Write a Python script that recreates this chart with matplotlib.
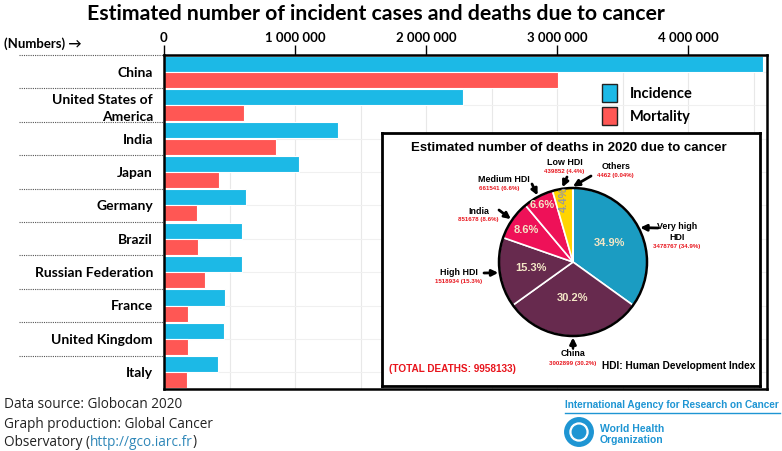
import matplotlib
matplotlib.use("Agg")
import matplotlib.pyplot as plt
from matplotlib.patches import Circle
import numpy as np

W, H = 782, 451

countries = ["China", "United States of\nAmerica", "India", "Japan", "Germany", "Brazil",
             "Russian Federation", "France", "United Kingdom", "Italy"]
incidence = [4568754, 2281658, 1324413, 1028658, 628519, 592212, 591371, 467965, 457960, 415269]
mortality = [3002899, 612390, 851678, 420124, 251995, 259949, 311537, 185621, 179648, 174759]
x_ticks = [0, 1000000, 2000000, 3000000, 4000000]
x_tick_labels = ["0", "1 000 000", "2 000 000", "3 000 000", "4 000 000"]

pie_groups = ["Very high\nHDI", "China", "High HDI", "India", "Medium HDI", "Low HDI", "Others"]
pie_deaths = [3478767, 3002899, 1518934, 851678, 661541, 439852, 4462]
pie_share = ["34.9%", "30.2%", "15.3%", "8.6%", "6.6%", "4.4%", "0.04%"]
total_deaths = 9958133

BLUE = "#1CB9E6"
RED = "#FF5754"
pie_colors = ["#1B9CC2", "#672A4E", "#672A4E", "#EE1158", "#EE1158", "#FFD400", "#FFD400"]

TITLE_FONT = ["Lato", "DejaVu Sans"]
ARIAL = ["Liberation Sans", "DejaVu Sans"]


def fx(x):
    return x / W


def fy(y):
    return 1 - y / H


fig = plt.figure(figsize=(W / 100, H / 100), dpi=100)
fig.patch.set_facecolor("white")

fig.text(fx(376), fy(14), "Estimated number of incident cases and deaths due to cancer",
         ha="center", va="center", fontsize=15.3, fontweight="bold", family=TITLE_FONT)

# ---- main bar chart
ax = fig.add_axes([fx(164), fy(389), fx(767 - 164), (389 - 55) / H])
y = np.arange(len(countries))
b1 = ax.barh(y - 0.24, incidence, height=0.48, color=BLUE, edgecolor="white", linewidth=0.8,
             label="Incidence", zorder=2)
b2 = ax.barh(y + 0.24, mortality, height=0.48, color=RED, edgecolor="white", linewidth=0.8,
             label="Mortality", zorder=2)
ax.set_ylim(len(countries) - 0.5, -0.5)
ax.set_xlim(0, 4600000)
ax.xaxis.tick_top()
ax.set_xticks(x_ticks)
ax.set_xticklabels(x_tick_labels, fontsize=9.5, fontweight="bold", family=TITLE_FONT)
ax.set_xticks(np.arange(0, 4600001, 500000), minor=True)
ax.tick_params(axis="x", which="major", length=7, width=1, pad=1)
ax.tick_params(axis="x", which="minor", length=0)
ax.set_yticks(y)
ax.set_yticklabels(countries, fontsize=10, fontweight="bold", family=TITLE_FONT, linespacing=1.5)
ax.tick_params(axis="y", length=0, pad=8)
ax.grid(axis="x", which="both", color="#E8E8E8", lw=0.8, zorder=0)
ax.grid(axis="y", color="#F0F0F0", lw=0.8, zorder=0)
for s in ax.spines.values():
    s.set_linewidth(1.8)
for i in range(len(countries)):
    ax.plot([-0.24, 0], [i - 0.5, i - 0.5], transform=ax.get_yaxis_transform(),
            ls=(0, (1, 1)), color="#555555", lw=0.8, clip_on=False)

fig.text(fx(4), fy(44), "(Numbers) \u2192", ha="left", va="center", fontsize=9.5,
         fontweight="bold", family=TITLE_FONT)

leg = ax.legend(handles=[b1, b2], loc="upper left", bbox_to_anchor=(fx(589), fy(71)),
                bbox_transform=fig.transFigure, frameon=False, handlelength=1.0,
                handleheight=1.5, handletextpad=0.9, labelspacing=0.35,
                prop={"size": 10.5, "weight": "bold", "family": TITLE_FONT})
for h in leg.legend_handles:
    h.set_edgecolor("#222222")
    h.set_linewidth(1)

# ---- inset pie
x0, x1, y0, y1 = 382, 760, 133, 386
ax2 = fig.add_axes([fx(x0), fy(y1), fx(x1 - x0), (y1 - y0) / H])
ax2.set_zorder(5)
center = (573, H - 262)
radius = 74
wedges, _ = ax2.pie(pie_deaths, colors=pie_colors, startangle=90, counterclock=False,
                    center=center, radius=radius, frame=True,
                    wedgeprops=dict(edgecolor="white", linewidth=1.2))
ax2.add_patch(Circle(center, radius, fill=False, edgecolor="black", lw=1.8, zorder=4))
ax2.set_xlim(x0, x1)
ax2.set_ylim(H - y1, H - y0)
ax2.set_aspect("auto")
ax2.set_xticks([])
ax2.set_yticks([])
ax2.set_facecolor("white")
for s in ax2.spines.values():
    s.set_linewidth(2)

ax2.text(569, H - 148, "Estimated number of deaths in 2020 due to cancer", ha="center",
         va="center", fontsize=9.5, fontweight="bold", family=ARIAL)

# percentage labels inside wedges
pct_radius = [0.56, 0.49, 0.58, 0.76, 0.88, 0.85, None]
for w, lab, r in zip(wedges, pie_share, pct_radius):
    if r is None:
        continue
    mid = np.deg2rad((w.theta1 + w.theta2) / 2)
    px = center[0] + r * radius * np.cos(mid)
    py = center[1] + r * radius * np.sin(mid)
    if lab == "4.4%":
        ax2.text(px, py, lab, ha="center", va="center", rotation=90, fontsize=8,
                 fontweight="bold", color="#9A9A9A", family=ARIAL, zorder=6)
    else:
        ax2.text(px, py, lab, ha="center", va="center", fontsize=8, fontweight="bold",
                 color="#F3E6C6", family=ARIAL, zorder=6)

# outside labels: (name xy, value xy, arrow tail) in image pixels
label_pos = [
    ((677, 232), (677, 247), (658, 228)),
    ((573, 354), (573, 363), (573, 348)),
    ((459, 273), (459, 282), (484, 273)),
    ((479, 212), (478, 220), (499, 210)),
    ((504, 180), (499, 189), (532, 184)),
    ((565, 163), (564, 172), (567, 177)),
    ((616, 167), (615, 176), (591, 176)),
]
for w, name, share, val, (npos, vpos, tail) in zip(wedges, pie_groups, pie_share, pie_deaths, label_pos):
    ax2.text(npos[0], H - npos[1], name, ha="center", va="center", fontsize=6.4,
             fontweight="bold", family=ARIAL, linespacing=1.15)
    ax2.text(vpos[0], H - vpos[1], f"{val} ({share})", ha="center", va="center",
             fontsize=4.4, fontweight="bold", color="#E8141C", family=ARIAL)
    mid = np.deg2rad((w.theta1 + w.theta2) / 2)
    tip = (center[0] + 1.02 * radius * np.cos(mid), center[1] + 1.02 * radius * np.sin(mid))
    ax2.annotate("", xy=tip, xytext=(tail[0], H - tail[1]),
                 arrowprops=dict(arrowstyle="-|>", color="black", lw=2,
                                 mutation_scale=9, shrinkA=0, shrinkB=0), zorder=7)

ax2.text(389, H - 369, f"(TOTAL DEATHS: {total_deaths})", ha="left", va="center",
         fontsize=7.2, fontweight="bold", color="#E8141C", family=ARIAL)
ax2.text(755, H - 366, "HDI: Human Development Index", ha="right", va="center",
         fontsize=7.3, fontweight="bold", family=ARIAL)

# ---- footer
FOOT = ["Open Sans", "DejaVu Sans"]
fig.text(fx(4), fy(405), "Data source: Globocan 2020", ha="left", va="center",
         fontsize=9.8, family=FOOT, color="#222222")
fig.text(fx(4), fy(424), "Graph production: Global Cancer", ha="left", va="center",
         fontsize=9.8, family=FOOT, color="#222222")
t1 = fig.text(fx(4), fy(442), "Observatory (", ha="left", va="center",
              fontsize=9.8, family=FOOT, color="#222222")
renderer = fig.canvas.get_renderer()
bb = t1.get_window_extent(renderer)
t2 = fig.text(bb.x1 / W, fy(442), "http://gco.iarc.fr", ha="left", va="center",
              fontsize=9.8, family=FOOT, color="#2F87B8")
bb2 = t2.get_window_extent(renderer)
fig.text(bb2.x1 / W, fy(442), ")", ha="left", va="center",
         fontsize=9.8, family=FOOT, color="#222222")

IARC = "#1E95D3"
fig.text(fx(565), fy(405), "International Agency for Research on Cancer", ha="left",
         va="center", fontsize=7.2, fontweight="bold", color=IARC,
         family=["Liberation Sans Narrow", "Liberation Sans"])
fig.add_artist(plt.Line2D([fx(565), fx(780)], [fy(413), fy(413)], color=IARC, lw=1))
logo = fig.add_axes([fx(564), fy(447), fx(30), 30 / H])
logo.set_xlim(-1, 1)
logo.set_ylim(-1, 1)
logo.axis("off")
logo.add_patch(Circle((0, 0), 0.95, color=IARC))
logo.add_patch(Circle((0, 0), 0.6, color="white"))
logo.add_patch(Circle((0, 0), 0.45, color=IARC))
fig.text(fx(600), fy(429), "World Health", ha="left", va="center", fontsize=7.5,
         fontweight="bold", color=IARC, family=ARIAL)
fig.text(fx(600), fy(440), "Organization", ha="left", va="center", fontsize=7.5,
         fontweight="bold", color=IARC, family=ARIAL)

fig.savefig("out.png", dpi=100)
